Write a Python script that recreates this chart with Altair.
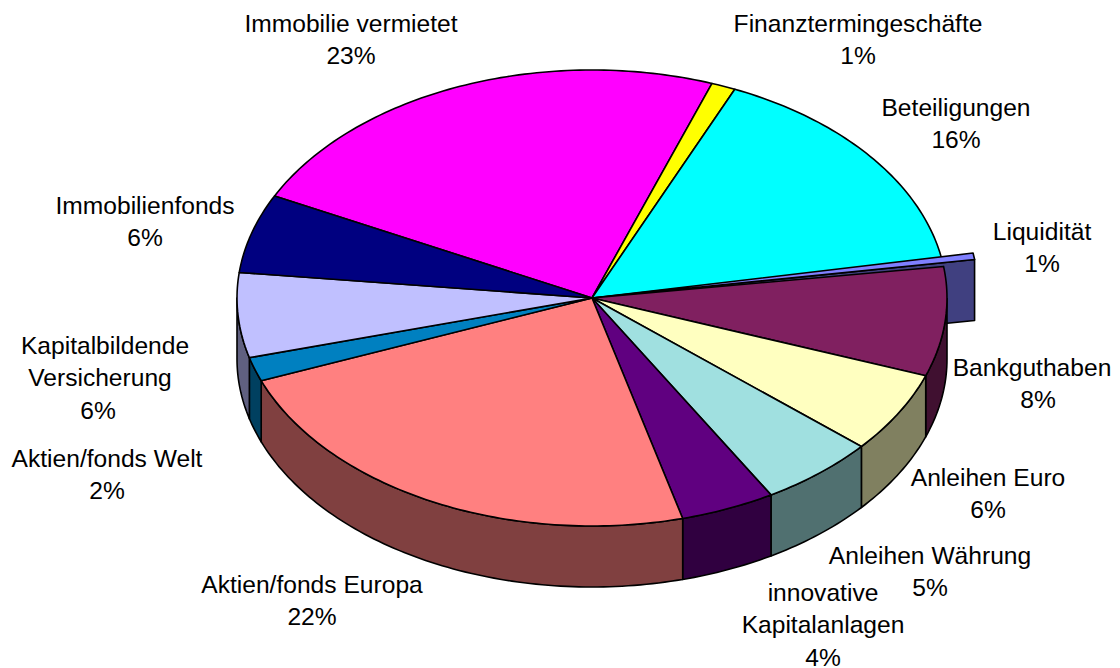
import math
import altair as alt
import pandas as pd

# Slices, clockwise from the navy/magenta boundary
names = ["Immobilie vermietet", "Finanztermingeschäfte", "Beteiligungen", "Liquidität", "Bankguthaben",
         "Anleihen Euro", "Anleihen Währung", "innovative Kapitalanlagen", "Aktien/fonds Europa",
         "Aktien/fonds Welt", "Kapitalbildende Versicherung", "Immobilienfonds"]
shares = [23.1, 1.1, 15.75, 0.45, 7.75, 5.75, 5.3, 4.3, 23.2, 1.7, 6.0, 5.6]
top_colors = ["#FF00FF", "#FFFF00", "#00FFFF", "#8080FF", "#802060", "#FFFFC0",
              "#A0E0E0", "#600080", "#FF8080", "#0080C0", "#C0C0FF", "#000080"]
side_colors = ["#800080", "#808000", "#008080", "#404080", "#401030", "#808060",
               "#507070", "#300040", "#804040", "#004060", "#606080", "#000040"]

label_lines = [["Immobilie vermietet", "23%"], ["Finanztermingeschäfte", "1%"], ["Beteiligungen", "16%"],
               ["Liquidität", "1%"], ["Bankguthaben", "8%"], ["Anleihen Euro", "6%"],
               ["Anleihen Währung", "5%"], ["innovative", "Kapitalanlagen", "4%"],
               ["Aktien/fonds Europa", "22%"], ["Aktien/fonds Welt", "2%"],
               ["Kapitalbildende", "Versicherung", "6%"], ["Immobilienfonds", "6%"]]
label_anchor = [(351, 25), (858, 25), (956, 109), (1042, 233), (1032, 369), (988, 479),
                (930, 557), (823, 594), (312, 586), (107, 460), (105, 347), (145, 207)]
line_x_override = {"Versicherung": 100, "6%@Kapitalbildende": 98, "8%@Bankguthaben": 1038}
line_gap = 32.3

CX, CY, RX, RY, DEPTH = 592, 298, 355, 228, 61
START = 296.6
EXPLODE = {"Liquidität": (31, -7)}


def pt(t, ox=0, oy=0, drop=0):
    r = math.radians(t)
    return (CX + ox + RX * math.sin(r), CY + oy + drop - RY * math.cos(r))


def arc(t0, t1, **kw):
    n = max(2, int(abs(t1 - t0)) + 2)
    return [pt(t0 + (t1 - t0) * i / (n - 1), **kw) for i in range(n)]


polys = []


def add(points, fill):
    pid = len(polys)
    polys.append((pid, points + [points[0]], fill))


edges = []
t = START
for s in shares:
    edges.append((t, t + s * 3.6))
    t += s * 3.6

# exploded slice's cut face
i_liq = names.index("Liquidität")
ox, oy = EXPLODE["Liquidität"]
e = pt(edges[i_liq][1], ox, oy)
add([(CX, CY), e, (e[0], e[1] + DEPTH), (CX, CY + DEPTH)], side_colors[i_liq])

# outer walls of the front half
for (t0, t1), c in zip(edges, side_colors):
    a = max(t0 if t0 < 360 else t0 - 360, 90)
    b = min(t1 if t0 < 360 else t1 - 360, 270)
    if b > a:
        add(arc(a, b) + arc(b, a, drop=DEPTH), c)

# top faces
for name, (t0, t1), c in zip(names, edges, top_colors):
    if name == "Liquidität":
        add([(CX, CY)] + arc(t0, t1, ox=ox, oy=oy), c)
    else:
        add([(CX, CY)] + arc(t0, t1), c)

rows = []
for pid, points, fill in polys:
    for k, (x, y) in enumerate(points):
        rows.append({"pid": pid, "k": k, "x": x, "y": y, "fill": fill})
df = pd.DataFrame(rows)

text_rows = []
for lines, (ax, ay) in zip(label_lines, label_anchor):
    for j, line in enumerate(lines):
        key = f"{line}@{lines[0]}" if j else line
        text_rows.append({"x": line_x_override.get(key, line_x_override.get(line, ax)),
                          "y": ay + j * line_gap, "text": line})
tf = pd.DataFrame(text_rows)

xs = alt.Scale(domain=[8, 1112], range=[0, 1104], nice=False, zero=False)
ys = alt.Scale(domain=[8, 668], range=[0, 660], nice=False, zero=False)

shapes = alt.Chart(df).mark_line(stroke="black", strokeWidth=1.6, strokeJoin="round", filled=True).encode(
    x=alt.X("x:Q", scale=xs, axis=None),
    y=alt.Y("y:Q", scale=ys, axis=None),
    detail="pid:N",
    fill=alt.Fill("fill:N", scale=None, legend=None),
    order="k:Q",
)
labels = alt.Chart(tf).mark_text(font="Liberation Sans", fontSize=24.6, color="black", align="center",
                                 baseline="middle", limit=0).encode(
    x=alt.X("x:Q", scale=xs, axis=None),
    y=alt.Y("y:Q", scale=ys, axis=None),
    text="text:N",
)
chart = (shapes + labels).properties(width=1104, height=660, padding=0, autosize="none",
                                     background="white").configure_view(stroke=None)
chart.save("out.html", embed_options={"renderer": "svg", "actions": False})
